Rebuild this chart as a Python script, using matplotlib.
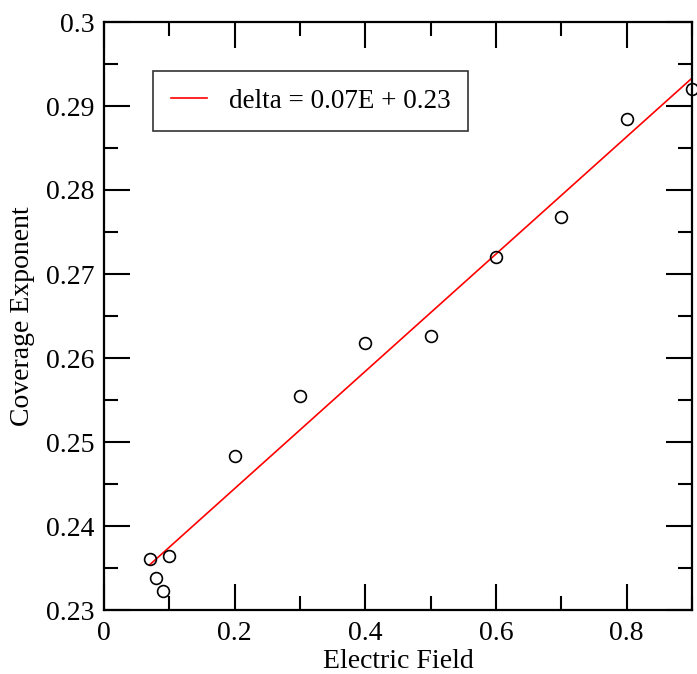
import matplotlib.pyplot as plt
import numpy as np
from matplotlib.ticker import MultipleLocator

# measured points
field = [0.07, 0.08, 0.09, 0.10, 0.2, 0.3, 0.4, 0.5, 0.6, 0.7, 0.8, 0.9]
exponent = [0.2361, 0.2338, 0.2323, 0.2364, 0.2483, 0.2555, 0.2618, 0.2626,
            0.2720, 0.2768, 0.2884, 0.2920]

# linear fit shown in the legend
fit_slope = 0.0698
fit_intercept = 0.2305
fit_range = [0.07, 0.9]

xticks = [0, 0.2, 0.4, 0.6, 0.8]
xtick_labels = ['0', '0.2', '0.4', '0.6', '0.8']
yticks = [0.23, 0.24, 0.25, 0.26, 0.27, 0.28, 0.29, 0.3]
ytick_labels = ['0.23', '0.24', '0.25', '0.26', '0.27', '0.28', '0.29', '0.3']

plt.rcParams['font.family'] = 'Liberation Serif'
plt.rcParams['font.size'] = 20

fig = plt.figure(figsize=(6.97, 6.74), dpi=100)
ax = fig.add_axes([104 / 697, 64 / 674, 588 / 697, 588 / 674])

xf = np.array(fit_range)
ax.plot(xf, fit_slope * xf + fit_intercept, color='#ff0000', lw=1.2,
        label='delta = 0.07E + 0.23')
ax.plot(field, exponent, 'o', mfc='none', mec='black', ms=8.5, mew=1.2,
        clip_on=False)

ax.set_xlim(0, 0.9)
ax.set_ylim(0.23, 0.3)
ax.set_xticks(xticks)
ax.set_xticklabels(xtick_labels)
ax.set_yticks(yticks)
ax.set_yticklabels(ytick_labels)
ax.xaxis.set_minor_locator(MultipleLocator(0.1))
ax.yaxis.set_minor_locator(MultipleLocator(0.005))
ax.tick_params(which='both', direction='in', top=True, right=True, width=1.5)
ax.tick_params(which='major', length=19)
ax.tick_params(which='minor', length=10)
ax.tick_params(axis='x', which='major', pad=8)
ax.tick_params(axis='y', which='major', pad=7)
for s in ax.spines.values():
    s.set_linewidth(1.6)

ax.set_xlabel('Electric Field', labelpad=2)
ax.set_ylabel('Coverage Exponent', labelpad=8)

leg = ax.legend(loc='upper left', bbox_to_anchor=(49 / 588, 1 - 49 / 588),
                borderaxespad=0, fancybox=False, edgecolor='black',
                borderpad=0.65, handlelength=1.35, handletextpad=0.8,
                fontsize=19.5)
leg.get_frame().set_linewidth(1.2)

plt.savefig('out.png', dpi=100)
